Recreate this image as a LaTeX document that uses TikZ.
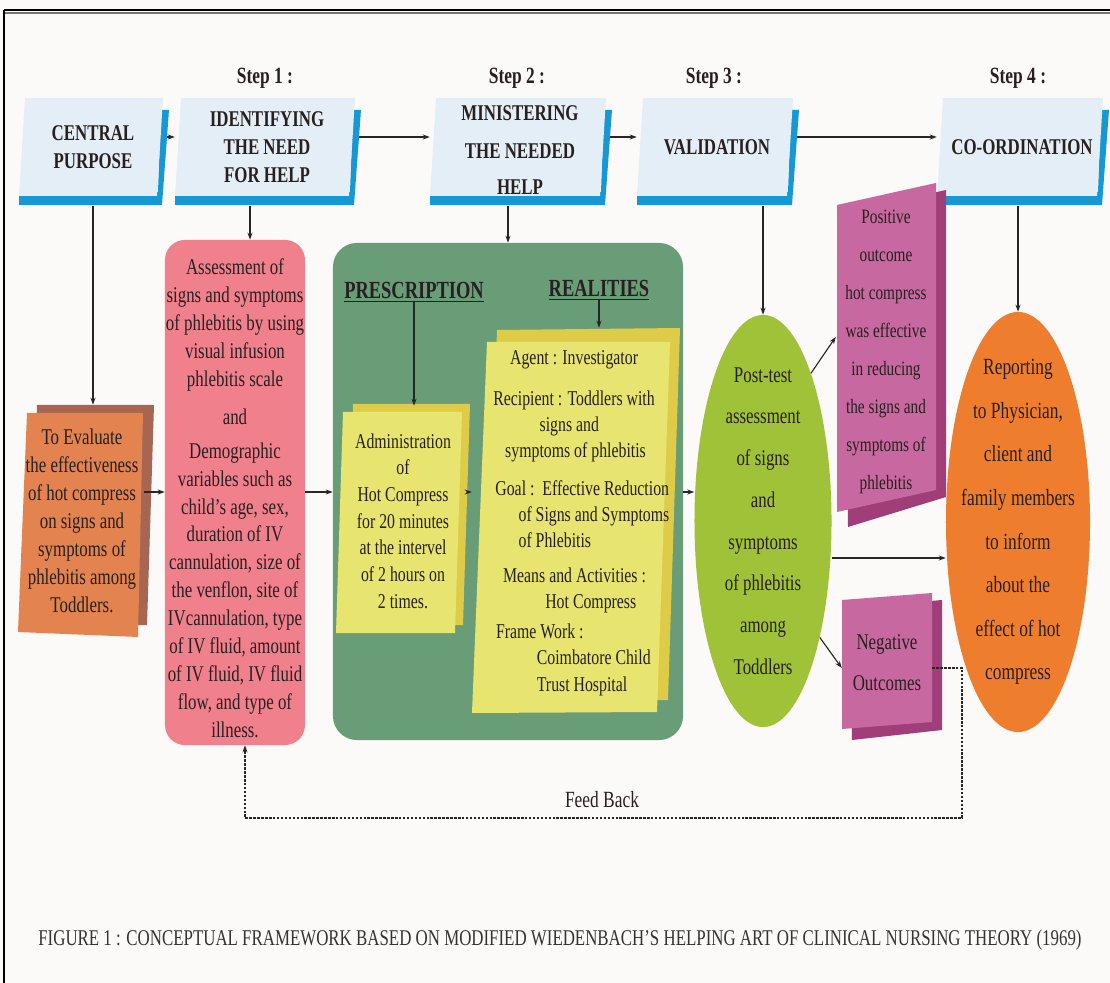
\documentclass[tikz,border=0pt]{standalone}
\usepackage{fontspec}
\setmainfont{Liberation Serif}[FakeStretch=0.75]
\usepackage{tikz}
\usetikzlibrary{arrows.meta,calc,positioning,shapes.geometric}

\definecolor{bgc}{RGB}{251,250,248}
\definecolor{hdfill}{RGB}{228,238,246}
\definecolor{hdblue}{RGB}{22,152,212}
\definecolor{objfr}{RGB}{226,131,80}
\definecolor{objbk}{RGB}{166,102,82}
\definecolor{asmc}{RGB}{240,128,140}
\definecolor{grnc}{RGB}{104,157,120}
\definecolor{ylwfr}{RGB}{232,228,112}
\definecolor{ylwbk}{RGB}{222,204,72}
\definecolor{pstc}{RGB}{160,194,56}
\definecolor{magfr}{RGB}{200,104,160}
\definecolor{magbk}{RGB}{160,62,122}
\definecolor{repc}{RGB}{238,125,45}
\definecolor{txtc}{RGB}{40,32,32}

\tikzset{
  hdtxt/.style={font=\fontsize{16}{20}\selectfont\bfseries,align=center,text=txtc,inner sep=0pt},
  bodytxt/.style={font=\fontsize{16}{19.9}\selectfont,align=center,text=txtc,inner sep=0pt},
  link/.style={->,line width=0.8pt,draw=black!85},
  fb/.style={line width=1.3pt,dash pattern=on 1.8pt off 1pt,draw=black!85},
}

\begin{document}
\begin{tikzpicture}[x=0.025cm,y=-0.025cm,>={Stealth[length=5pt,width=3.6pt]}]
\useasboundingbox (0,0) rectangle (1110,983);
\fill[bgc] (0,0) rectangle (1110,983);
% frame
\draw[black!55,line width=1pt] (5,13) -- (1110,13);
\draw[black,line width=1.2pt] (4,10) -- (1110,10);
\draw[black,line width=1pt] (4,10) -- (4,983);
% header boxes with blue shadow
\foreach \nm/\xa/\xb/\yc/\txt in {cp/22/160/147/{CENTRAL\\PURPOSE},idn/178/352/147/{IDENTIFYING\\THE NEED\\FOR HELP},mnh/433/603/150/{MINISTERING\\[7pt]THE NEEDED\\[5pt]HELP},val/640/790/147/{VALIDATION},cod/940/1100/147/{CO-ORDINATION}} {
  \fill[hdblue] (\xb+1,110) -- (\xb+9,110) -- (\xb+2,205) -- (\xa-3,205) -- (\xa-3,192) -- (\xb-2,192) -- cycle;
  \fill[hdfill] (\xa+3,98) -- (\xb+3,98) -- (\xb-3,196) -- (\xa-3,196) -- cycle;
  \node[hdtxt,minimum width={(\xb-\xa+10)*0.025cm},minimum height=2.425cm] (\nm) at ({(\xa+\xb)/2+2},\yc) {\txt};
}
\foreach \nm/\xc/\s in {st1/265/1,st2/517/2,st3/714/3,st4/1018/4}
  \node[hdtxt,font=\fontsize{16.5}{20}\selectfont\bfseries] (\nm) at (\xc,78) {Step \s\ :};
% row of steps
\coordinate (rowy) at (0,137);
\draw[link] (cp.east |- rowy) -- (idn.west |- rowy);
\draw[link] (idn.east |- rowy) -- (mnh.west |- rowy);
\draw[link] (mnh.east |- rowy) -- (val.west |- rowy);
\draw[link] (val.east |- rowy) -- (cod.west |- rowy);
% central purpose (stacked sheet)
\fill[objbk] (37,405) -- (154,405) -- (147,625) -- (30,625) -- cycle;
\fill[objfr] (27,413) -- (143,413) -- (138,637) -- (18,632) -- cycle;
\node[bodytxt,minimum width=3.1cm,minimum height=5.8cm] (obj) at (82,521) {To Evaluate\\the effectiveness\\of hot compress\\on signs and\\symptoms of\\phlebitis among\\Toddlers.};
% assessment
\node[fill=asmc,rounded corners=0.5cm,minimum width=3.5cm,minimum height=12.625cm,
  label={[bodytxt,yshift=-0.15cm]center:Assessment of\\signs and symptoms\\of phlebitis by using\\visual infusion\\phlebitis scale\\[7pt]and\\[4pt]Demographic\\variables such as\\child's age, sex,\\duration of IV\\cannulation, size of\\the venflon, site of\\IVcannulation, type\\of IV fluid, amount\\of IV fluid, IV fluid\\flow, and type of\\illness.}] (asm) at (235,492.5) {};
% ministering panel
\node[fill=grnc,rounded corners=0.6cm,minimum width=8.75cm,minimum height=12.425cm] (grn) at (508,491.5) {};
\node[hdtxt,font=\fontsize{17.5}{20}\selectfont\bfseries] (prs) at (414,292) {\underline{PRESCRIPTION}};
\node[hdtxt,font=\fontsize{17.5}{20}\selectfont\bfseries] (rls) at (599,290) {\underline{REALITIES}};
\fill[ylwbk] (353,404) -- (470,404) -- (463,625) -- (346,625) -- cycle;
\fill[ylwfr] (343,412) -- (462,412) -- (455,633) -- (336,633) -- cycle;
\node[bodytxt,font=\fontsize{15}{19}\selectfont,minimum width=3.35cm,minimum height=5.75cm] (adm) at (403,521) {Administration\\of\\Hot Compress\\for 20 minutes\\at the intervel\\of 2 hours on\\2 times.};
\fill[ylwbk] (497,330) -- (680,328) -- (668,700) -- (485,700) -- cycle;
\fill[ylwfr] (487,342) -- (670,342) -- (657,712) -- (472,713) -- cycle;
\node[minimum width=5.2cm,minimum height=9.6cm] (rlb) at (576,520) {};
\node[bodytxt,font=\fontsize{15}{18.5}\selectfont,align=left,anchor=west] (rlt) at (493,523) {\hspace*{12pt}Agent : Investigator\\[11pt]Recipient : Toddlers with\\\hspace*{33pt}signs and\\\hspace*{8.5pt}symptoms of phlebitis\\[8.5pt]\hspace*{1.5pt}Goal :\ \ Effective Reduction\\\hspace*{18pt}of Signs and Symptoms\\\hspace*{18pt}of Phlebitis\\[5.7pt]\hspace*{7pt}Means and Activities :\\\hspace*{37pt}Hot Compress\\[3.5pt]\hspace*{2pt}Frame Work :\\\hspace*{31pt}Coimbatore Child\\\hspace*{31pt}Trust Hospital};
% validation
\node[ellipse,fill=pstc,minimum width=3.425cm,minimum height=10.3cm,inner sep=0pt,
  label={[bodytxt,font=\fontsize{16}{29.7}\selectfont]center:Post-test\\assessment\\of signs\\and\\symptoms\\of phlebitis\\among\\Toddlers}] (pst) at (763,521) {};
\fill[magbk] (846,212) -- (946,190) -- (946,497) -- (848,527) -- cycle;
\fill[magfr] (837,205) -- (936,183) -- (936,490) -- (837,512) -- cycle;
\node[bodytxt,font=\fontsize{14.5}{27}\selectfont,minimum width=2.5cm,minimum height=7.8cm] (pos) at (886,352) {Positive\\outcome\\hot compress\\was effective\\in reducing\\the signs and\\symptoms of\\phlebitis};
\fill[magbk] (850,608) -- (942,600) -- (942,730) -- (852,740) -- cycle;
\fill[magfr] (842,600) -- (932,593) -- (932,722) -- (842,729) -- cycle;
\node[bodytxt,font=\fontsize{16}{29}\selectfont,minimum width=2.25cm,minimum height=3.2cm] (neg) at (887,663) {Negative\\Outcomes};
% co-ordination
\node[ellipse,fill=repc,minimum width=3.6cm,minimum height=10.5cm,inner sep=0pt,
  label={[bodytxt,font=\fontsize{16.5}{31}\selectfont]center:Reporting\\to Physician,\\client and\\family members\\to inform\\about the\\effect of hot\\compress}] (rep) at (1018,522) {};
% connectors down from the steps
\draw[link] ($(cp.south)+(0,10)$) -- (cp.south |- obj.north);
\coordinate (idn-d) at ($(idn.south)+(-17,10)$);
\draw[link] (idn-d) -- (idn-d |- asm.north);
\coordinate (mnh-d) at ($(mnh.south)+(-12,7)$);
\draw[link] (mnh-d) -- (mnh-d |- grn.north);
\coordinate (val-d) at ($(val.south -| pst.north)+(0,10)$);
\draw[link] (val-d) -- (pst.north);
\coordinate (cod-d) at ($(cod.south -| rep.north)+(0,10)$);
\draw[link] (cod-d) -- (rep.north);
% middle row
\coordinate (midy) at (0,492);
\draw[link] (obj.east |- midy) -- (asm.west |- midy);
\draw[link] (asm.east |- midy) -- (grn.west |- midy);
\draw[link] (prs.south) -- (prs.south |- adm.north);
\draw[link] (rls.south) -- (rls.south |- rlb.north);
\draw[link] (adm.east |- midy) -- (rlb.west |- midy);
\draw[link] (grn.east |- midy) -- (pst.west |- midy);
\draw[link] (pst.72) -- ($(pos.west)+(0,-15)$);
\draw[link] (pst.-64) -- ($(neg.west)+(0,5)$);
\coordinate (rowb) at (0,558);
\draw[link] (pst.east |- rowb) -- (rep.west |- rowb);
% feed back
\coordinate (fbr) at (962,818);
\draw[fb,->] ($(neg.east)+(0,5)$) -| (fbr) -| ($(asm.south)+(10,0)$);
\node[bodytxt,font=\fontsize{16.5}{20}\selectfont] (fbl) at (602,800) {Feed Back};
% caption
\node[bodytxt,font=\fontsize{16}{18}\selectfont,text=black!80] (cap) at (560,940) {FIGURE 1 : CONCEPTUAL FRAMEWORK BASED ON MODIFIED WIEDENBACH’S HELPING ART OF CLINICAL NURSING THEORY (1969)};
\end{tikzpicture}
\end{document}
